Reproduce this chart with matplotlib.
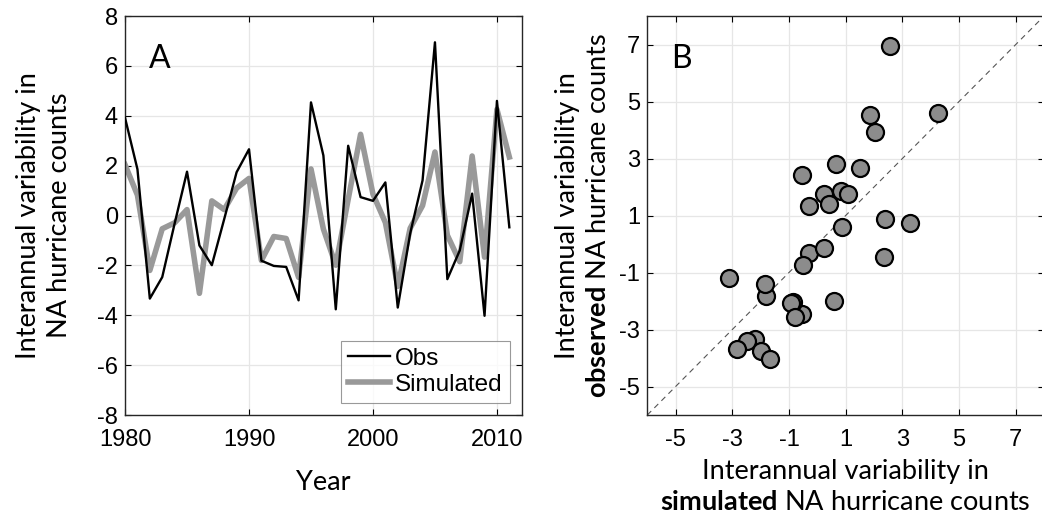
import matplotlib
matplotlib.use("Agg")
import matplotlib.pyplot as plt
import numpy as np

# interannual anomalies, 1980-2011
years = list(range(1980, 2012))
obs = [3.92, 1.86, -3.33, -2.47, -0.32, 1.76, -1.2, -1.99, -0.14, 1.74,
       2.66, -1.81, -2.02, -2.06, -3.4, 4.54, 2.41, -3.76, 2.8, 0.74,
       0.59, 1.33, -3.69, -0.72, 1.41, 6.95, -2.55, -1.4, 0.88, -4.02,
       4.6, -0.47]
sim = [2.04, 0.82, -2.2, -0.53, -0.29, 0.24, -3.12, 0.59, 0.24, 1.1,
       1.49, -1.8, -0.84, -0.92, -2.48, 1.87, -0.54, -1.99, 0.65, 3.26,
       0.86, -0.28, -2.84, -0.51, 0.4, 2.55, -0.79, -1.85, 2.39, -1.67,
       4.26, 2.35]

ticks_a_x = [1980, 1990, 2000, 2010]
ticks_a_y = [-8, -6, -4, -2, 0, 2, 4, 6, 8]
ticks_b = [-5, -3, -1, 1, 3, 5, 7]

label_font = "Lato"
plt.rcParams["font.family"] = "Liberation Sans"
plt.rcParams["axes.unicode_minus"] = False
plt.rcParams["mathtext.fontset"] = "custom"
plt.rcParams["mathtext.rm"] = label_font
plt.rcParams["mathtext.bf"] = label_font + ":bold"

fig = plt.figure(figsize=(10.42, 5.29), dpi=100)
axA = fig.add_axes([0.12, 0.2155, 0.3807, 0.754])
axB = fig.add_axes([0.6212, 0.2155, 0.3807, 0.754])

lab_kw = dict(fontsize=19.5, family=label_font, linespacing=1.3)


def style(ax):
    ax.grid(True, color="#e6e6e6", lw=0.9)
    ax.set_axisbelow(True)
    ax.tick_params(direction="in", length=4, width=0.8, top=True, right=True,
                   labelsize=17)
    ax.tick_params(axis="x", pad=10)
    ax.tick_params(axis="y", pad=5)
    for s in ax.spines.values():
        s.set_linewidth(1.0)
        s.set_color("#262626")


# panel A
axA.plot(years, sim, color="#999999", lw=4, label="Simulated", zorder=2)
axA.plot(years, obs, color="black", lw=1.7, label="Obs", zorder=3)
axA.set_xlim(1980, 2012)
axA.set_ylim(-8, 8)
axA.set_xticks(ticks_a_x)
axA.set_yticks(ticks_a_y)
style(axA)
axA.set_xlabel("Year", labelpad=14, **lab_kw)
axA.set_ylabel("Interannual variability in\nNA hurricane counts", labelpad=18,
               **lab_kw)
h, l = axA.get_legend_handles_labels()
leg = axA.legend(h[::-1], l[::-1], loc="lower right", prop={"size": 17.5},
                 fancybox=False, edgecolor="#808080", handlelength=1.7,
                 handletextpad=0.2, borderaxespad=0.5, borderpad=0.3,
                 labelspacing=0.15)
leg.get_frame().set_linewidth(0.8)
axA.text(0.06, 0.93, "A", transform=axA.transAxes, fontsize=23,
         family=label_font, va="top")

# panel B
axB.plot([-6, 8], [-6, 8], ls=(0, (5, 4)), color="#555555", lw=0.8, zorder=2)
axB.scatter(sim, obs, s=150, facecolor="#8c8c8c", edgecolor="black",
            linewidth=1.6, zorder=3)
axB.set_xlim(-6, 8)
axB.set_ylim(-6, 8)
axB.set_xticks(ticks_b)
axB.set_yticks(ticks_b)
style(axB)
axB.set_xlabel("Interannual variability in\n$\\bf{simulated}$ NA hurricane counts",
               labelpad=6, **lab_kw)
axB.set_ylabel("Interannual variability in\n$\\bf{observed}$ NA hurricane counts",
               labelpad=6, **lab_kw)
axB.text(0.06, 0.93, "B", transform=axB.transAxes, fontsize=23,
         family=label_font, va="top")

fig.savefig("out.png", dpi=100)
